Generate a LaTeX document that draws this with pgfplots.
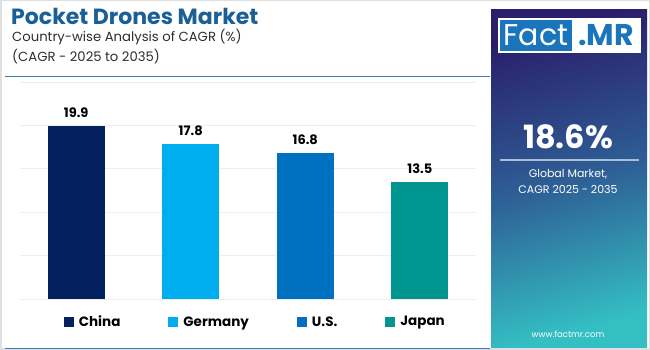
\documentclass[border=0pt]{standalone}
\usepackage{fontspec}
\setmainfont{Poppins}
\usepackage{pgfplots}
\pgfplotsset{compat=1.18}
\definecolor{cChina}{HTML}{03215E}
\definecolor{cGer}{HTML}{00AEEF}
\definecolor{cUS}{HTML}{0070C0}
\definecolor{cJap}{HTML}{00968F}
\definecolor{titleblue}{HTML}{1A5F96}
\definecolor{subgray}{HTML}{2E2E2E}
\definecolor{linebl}{HTML}{3B7DB4}
\definecolor{gridc}{HTML}{EDEDED}
\definecolor{pTop}{HTML}{2A1F6C}
\definecolor{pMid}{HTML}{2E5E95}
\definecolor{pBot}{HTML}{34BFC3}
\definecolor{logoblue}{HTML}{1B75BB}
\pgfplotsset{legsq/.style={legend image code/.code={\fill[##1] (0pt,-5pt) rectangle (10pt,5pt);}}}
\begin{document}
\begin{tikzpicture}[x=1pt,y=1pt]
\path[use as bounding box] (0,0) rectangle (650,350);
\fill[white] (0,0) rectangle (650,350);
\draw[black!12, line width=1.5pt] (0.75,0.75) rectangle (649.25,349.25);
% header
\node[anchor=west, inner sep=0pt, font=\fontsize{22}{26}\selectfont\bfseries, text=titleblue] at (11,334) {Pocket Drones Market};
\node[anchor=west, inner sep=0pt, font=\fontsize{13.2}{15}\selectfont, text=subgray] at (12,313) {Country-wise Analysis of CAGR (\%)};
\node[anchor=west, inner sep=0pt, font=\fontsize{13.2}{15}\selectfont, text=subgray] at (12,293) {(CAGR - 2025 to 2035)};
\draw[linebl, line width=1pt] (5,273) -- (490,273);
\draw[linebl, line width=1.5pt] (5,1.5) -- (490,1.5);
% right panel
\shade[top color=pTop, bottom color=pBot, middle color=pMid, shading angle=15] (491,2) rectangle (647,340);
\fill[white] (498,332) rectangle (641,297);
\fill[logoblue] (500,330) rectangle (572,299);
\node[text=white, font=\fontsize{30}{31}\selectfont, inner sep=0pt] at (536,314.5) {Fact};
\node[text=logoblue, font=\fontsize{30}{31}\selectfont\bfseries, inner sep=0pt] at (606,314.5) {.MR};
\node[text=white, font=\fontsize{32}{34}\selectfont\bfseries, inner sep=0pt] at (568,213) {18.6\%};
\draw[white!60!pMid, line width=1.2pt] (500,190) -- (639,190);
\node[text=white, font=\fontsize{11}{13}\selectfont, inner sep=0pt] at (568,176) {Global Market,};
\node[text=white, font=\fontsize{11}{13}\selectfont, inner sep=0pt] at (568,161) {CAGR 2025 - 2035};
\node[text=white, font=\fontsize{8.5}{10}\selectfont, inner sep=0pt] at (568,16) {www.factmr.com};
% chart
\begin{axis}[
  at={(20pt,51pt)}, anchor=south west,
  width=456pt, height=217pt, scale only axis,
  xmin=-0.49, xmax=3.49, ymin=0, ymax=25,
  ytick={0,5,...,25}, yticklabels={}, xtick=\empty,
  ymajorgrids, grid style={gridc, line width=0.8pt},
  axis line style={draw=none}, major tick length=0pt,
  ybar, bar width=57pt,
  /pgf/number format/assume math mode=true,
  /pgf/number format/fixed, /pgf/number format/precision=1,
  nodes near coords,
  every node near coord/.append style={font=\fontsize{13}{15}\selectfont\bfseries, text=black, yshift=5pt},
  legend columns=4,
  legend style={at={(axis description cs:0.516,-0.106)}, anchor=center, draw=none, fill=none,
    font=\fontsize{13.5}{15}\selectfont\bfseries, text=black,
    /tikz/every odd column/.append style={column sep=3pt},
    /tikz/every even column/.append style={column sep=46pt}},
]
\addplot[fill=cChina, draw=none, bar shift=0pt, legsq] coordinates {(0,19.9)};
\addplot[fill=cGer, draw=none, bar shift=0pt, legsq] coordinates {(1,17.8)};
\addplot[fill=cUS, draw=none, bar shift=0pt, legsq] coordinates {(2,16.8)};
\addplot[fill=cJap, draw=none, bar shift=0pt, legsq] coordinates {(3,13.5)};
\legend{China, Germany, U.S., Japan}
\end{axis}
\end{tikzpicture}
\end{document}
